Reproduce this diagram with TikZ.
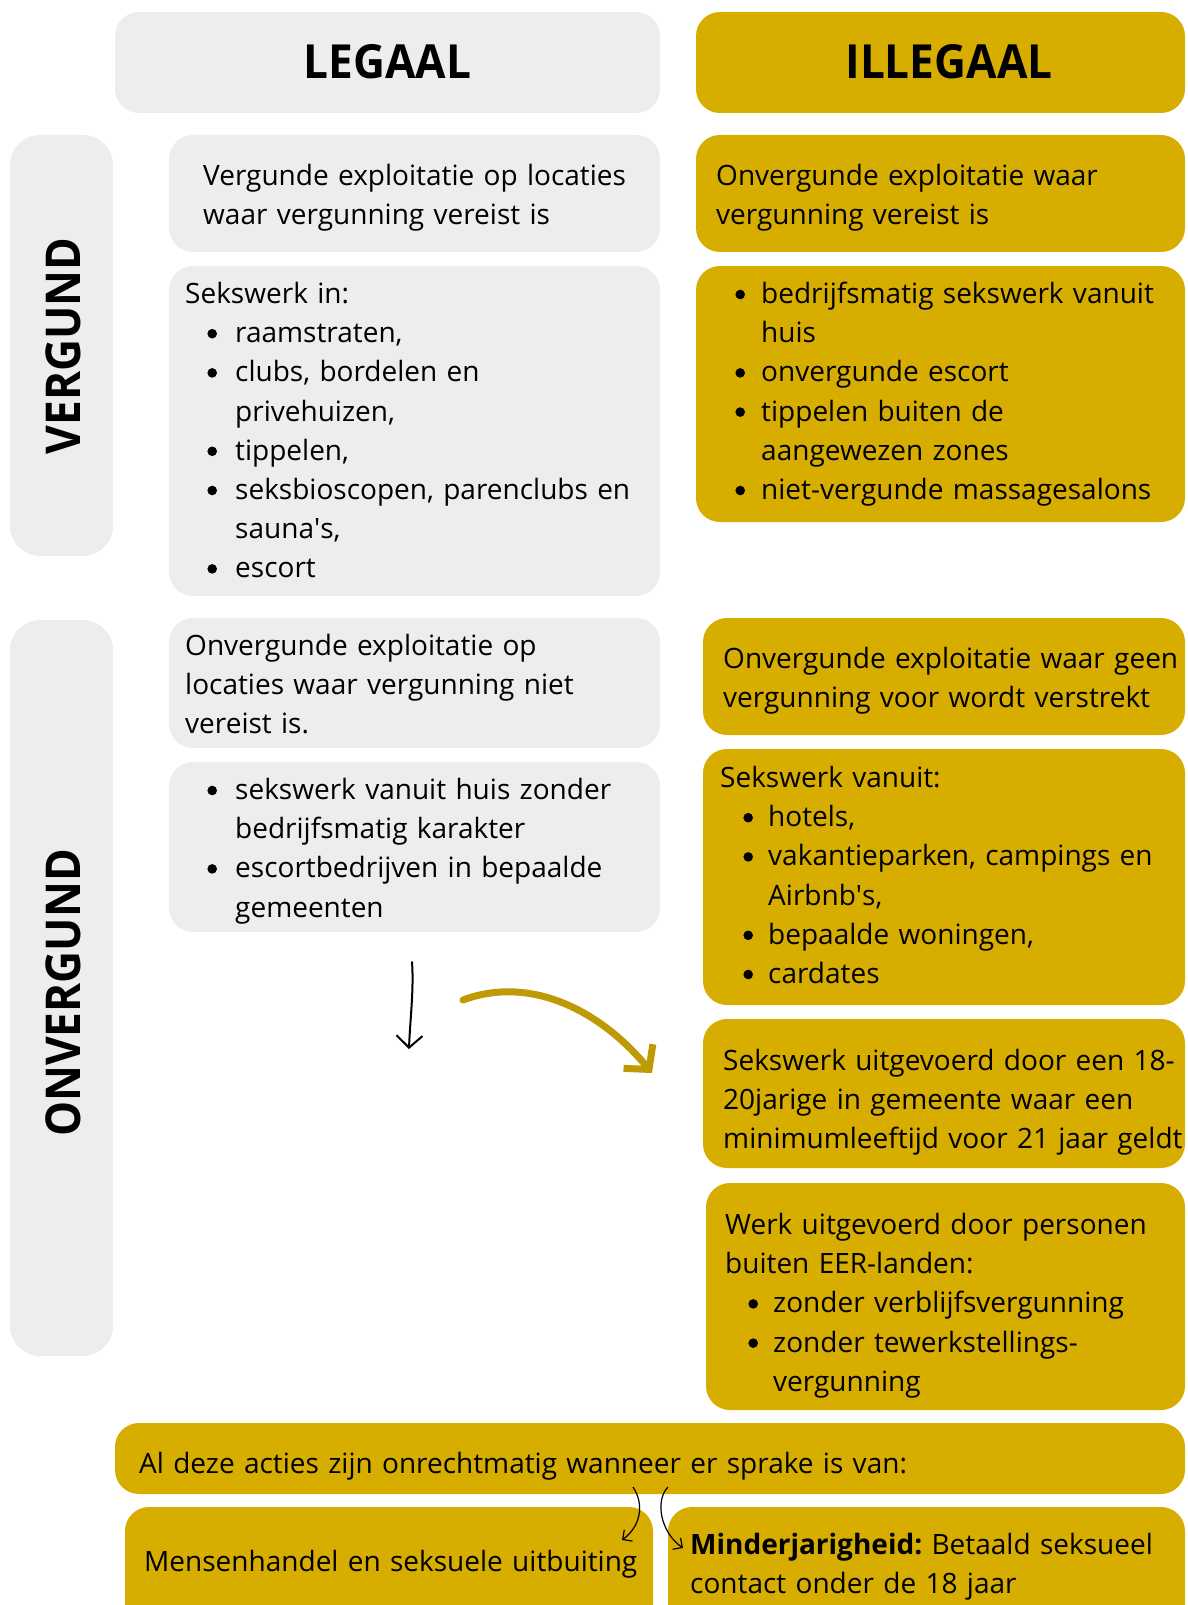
\documentclass[tikz,border=0pt]{standalone}
\usepackage{fontspec}
\setmainfont{Open Sans}
\usetikzlibrary{arrows.meta}
\definecolor{lgrey}{RGB}{238,236,237}
\definecolor{gold}{RGB}{215,174,0}
\definecolor{arrgold}{RGB}{190,154,5}
\frenchspacing
\newcommand\bdot{\tikz[baseline=0pt]\fill (0pt,9pt) circle[radius=4.8pt];}
\newcommand\itmf[2]{\hangindent=#2\hangafter=1\noindent\hbox to #2{\hskip#1\hbox to 0pt{\hss\bdot\hss}\hss}}
\newcommand\itm[2]{\par\itmf{#1}{#2}}
\tikzset{
  gbox/.style={fill=lgrey, rounded corners=24pt},
  ybox/.style={fill=gold, rounded corners=24pt},
  sidebox/.style={fill=lgrey, rounded corners=30pt},
  body/.style={anchor=base west, inner sep=0pt, align=left, text width=490pt,
    font=\fontsize{28}{39.2}\selectfont\frenchspacing},
  head/.style={anchor=base, inner sep=0pt, font=\fontsize{47}{55}\selectfont\bfseries},
  side/.style={anchor=base, inner sep=0pt, rotate=90, font=\fontsize{48}{56}\selectfont\bfseries},
}
\begin{document}
\begin{tikzpicture}[x=1pt,y=-1pt]
\path[use as bounding box, clip] (0,0) rectangle (1187,1605);
% header boxes
\fill[gbox] (115,12) rectangle (660,113);
\fill[ybox] (696,12) rectangle (1185,113);
\node[head] (hl) at (387.5,78.5) {\scalebox{0.94}[1]{LEGAAL}};
\node[head] (hi) at (949,78.5) {\scalebox{0.94}[1]{ILLEGAAL}};
% side boxes
\fill[sidebox] (10,135) rectangle (113,556);
\fill[sidebox] (10,620) rectangle (113,1356);
\node[side] (sv) at (80,346) {\scalebox{0.92}[1]{VERGUND}};
\node[side] (so) at (80,993) {\scalebox{0.92}[1]{ONVERGUND}};
% left column
\fill[gbox] (169,135) rectangle (660,252);
\fill[gbox] (169,266) rectangle (660,596);
\fill[gbox] (169,618) rectangle (660,748);
\fill[gbox] (169,762) rectangle (660,932);
\node[body] (l1) at (203,185.5) {Vergunde exploitatie op locaties\newline waar vergunning vereist is\par};
\node[body] (l2) at (185,303.5) {Sekswerk in:
  \itm{27pt}{50pt}raamstraten,
  \itm{27pt}{50pt}clubs, bordelen en\newline privehuizen,
  \itm{27pt}{50pt}tippelen,
  \itm{27pt}{50pt}seksbioscopen, parenclubs en\newline sauna\textquotesingle s,
  \itm{27pt}{50pt}escort\par};
\node[body] (l3) at (185,655.5) {Onvergunde exploitatie op\newline locaties waar vergunning niet\newline vereist is.\par};
\node[body] (l4) at (185,799.5) {\itmf{27pt}{50pt}sekswerk vanuit huis zonder\newline bedrijfsmatig karakter
  \itm{27pt}{50pt}escortbedrijven in bepaalde\newline gemeenten\par};
% right column
\fill[ybox] (696,135) rectangle (1185,252);
\fill[ybox] (696,266) rectangle (1185,522);
\fill[ybox] (703,618) rectangle (1185,735);
\fill[ybox] (703,749) rectangle (1185,1005);
\fill[ybox] (703,1019) rectangle (1185,1168);
\fill[ybox] (706,1183) rectangle (1185,1410);
\node[body] (r1) at (716,185.5) {Onvergunde exploitatie waar\newline vergunning vereist is\par};
\node[body] (r2) at (716,303.5) {\itmf{24pt}{45pt}bedrijfsmatig sekswerk vanuit\newline huis
  \itm{24pt}{45pt}onvergunde escort
  \itm{24pt}{45pt}tippelen buiten de\newline aangewezen zones
  \itm{24pt}{45pt}niet-vergunde massagesalons\par};
\node[body] (r3) at (723,668.5) {Onvergunde exploitatie waar geen\newline vergunning voor wordt verstrekt\par};
\node[body] (r4) at (720,787.5) {Sekswerk vanuit:
  \itm{28pt}{48pt}hotels,
  \itm{28pt}{48pt}vakantieparken, campings en\newline Airbnb\textquotesingle s,
  \itm{28pt}{48pt}bepaalde woningen,
  \itm{28pt}{48pt}cardates\par};
\node[body] (r5) at (723,1070.5) {Sekswerk uitgevoerd door een 18-\newline 20jarige in gemeente waar een\newline minimumleeftijd voor 21 jaar geldt\par};
\node[body] (r6) at (725,1234.5) {Werk uitgevoerd door personen\newline buiten EER-landen:
  \itm{28pt}{48pt}zonder verblijfsvergunning
  \itm{28pt}{48pt}zonder tewerkstellings-\newline vergunning\par};
% bottom
\fill[ybox] (115,1423) rectangle (1185,1494);
\fill[ybox] (125,1507) rectangle (653,1640);
\fill[ybox] (668,1507) rectangle (1185,1640);
\node[body, text width=1000pt] (b0) at (139,1473.5) {Al deze acties zijn onrechtmatig wanneer er sprake is van:\par};
\node[body, text width=600pt] (b1) at (144,1571) {Mensenhandel en seksuele uitbuiting\par};
\node[body, text width=600pt] (b2) at (690,1554) {\textbf{Minderjarigheid:} Betaald seksueel\newline contact onder de 18 jaar\par};
% arrows
\coordinate (a1s) at (412,962);
\coordinate (a1e) at (409,1049);
\coordinate (a2s) at (463,1000);
\coordinate (a2e) at (652,1073);
\coordinate (a3s) at (633,1487);
\coordinate (a3e) at (622,1540);
\coordinate (a4s) at (668,1487);
\coordinate (a4e) at (683,1548);
\draw[line width=2pt, line cap=round, -{Straight Barb[length=12pt,width=26pt]}] (a1s) .. controls (414,990) and (410,1020) .. (a1e);
\draw[arrgold, line width=7pt, line cap=round, -{Straight Barb[length=17pt,width=38pt]}] (a2s) .. controls (530,975) and (600,1010) .. (a2e);
\draw[line width=1.2pt, -{Straight Barb[length=7pt,width=14pt]}] (a3s) .. controls (645,1505) and (640,1527) .. (a3e);
\draw[line width=1.2pt, -{Straight Barb[length=7pt,width=14pt]}] (a4s) .. controls (655,1500) and (660,1532) .. (a4e);
\end{tikzpicture}
\end{document}
